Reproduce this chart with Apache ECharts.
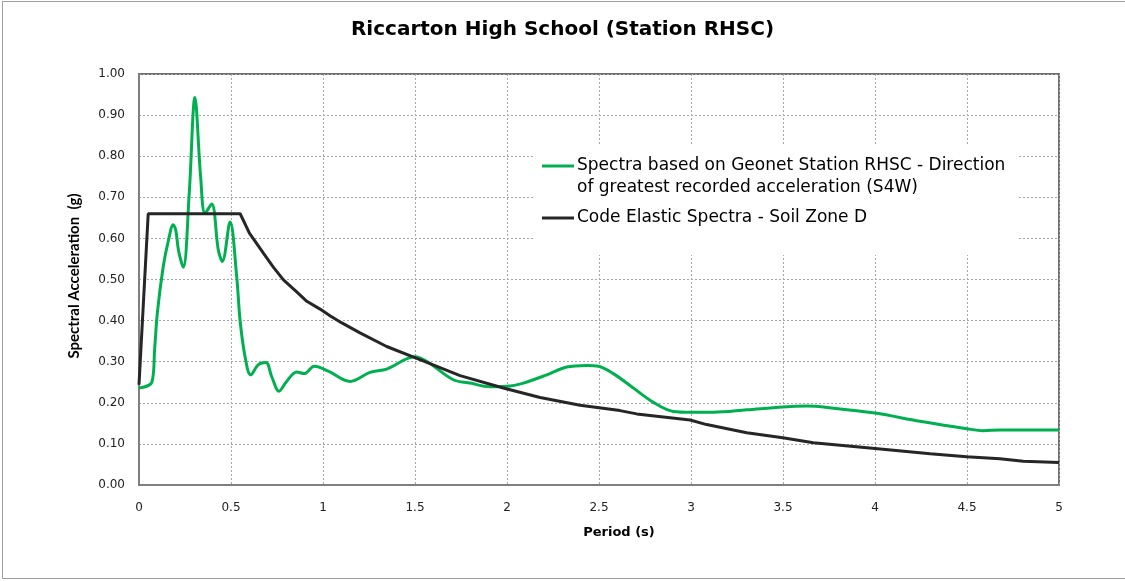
<!DOCTYPE html>
<html>
<head>
<meta charset="utf-8">
<script src="https://cdn.jsdelivr.net/npm/echarts@6/dist/echarts.min.js"></script>
<style>
html,body{margin:0;padding:0;background:#fff;}
#chart{width:1125px;height:581px;position:absolute;left:0;top:0;}
#frame{position:absolute;left:2px;top:1px;width:1130px;height:576px;border:1px solid #a0a0a0;pointer-events:none;}
</style>
</head>
<body>
<div id="chart"></div>
<div id="frame"></div>
<script>
const titleText = 'Riccarton High School (Station RHSC)';
const xAxisName = 'Period (s)';
const yAxisName = 'Spectral Acceleration  (g)';
const seriesNames = [
  'Spectra based on Geonet Station RHSC - Direction\nof greatest recorded acceleration (S4W)',
  'Code Elastic Spectra - Soil Zone D'
];

const greenT = [0, 0.07, 0.085, 0.1, 0.132, 0.16, 0.186, 0.2, 0.215, 0.241, 0.273, 0.304, 0.335, 0.359, 0.395, 0.431, 0.453, 0.495, 0.531, 0.549, 0.576, 0.607, 0.649, 0.69, 0.721, 0.761, 0.802, 0.857, 0.897, 0.953, 1.029, 1.147, 1.255, 1.346, 1.5, 1.563, 1.708, 1.799, 1.908, 1.998, 2.089, 2.216, 2.324, 2.433, 2.497, 2.578, 2.687, 2.796, 2.904, 3.0, 3.122, 3.303, 3.499, 3.629, 3.755, 4.0, 4.245, 4.498, 4.589, 4.679, 5.0];
const greenSa = [0.236, 0.25, 0.33, 0.42, 0.532, 0.595, 0.633, 0.62, 0.57, 0.53, 0.71, 0.943, 0.75, 0.661, 0.684, 0.572, 0.544, 0.64, 0.507, 0.402, 0.313, 0.268, 0.293, 0.298, 0.264, 0.228, 0.252, 0.275, 0.271, 0.289, 0.277, 0.252, 0.274, 0.282, 0.312, 0.301, 0.256, 0.248, 0.239, 0.24, 0.248, 0.268, 0.287, 0.291, 0.289, 0.271, 0.236, 0.201, 0.179, 0.177, 0.177, 0.183, 0.19, 0.192, 0.188, 0.175, 0.155, 0.137, 0.132, 0.134, 0.134];

const codeT = [0, 0.05, 0.55, 0.6, 0.676, 0.73, 0.785, 0.857, 0.912, 0.984, 1.038, 1.1, 1.201, 1.346, 1.527, 1.745, 1.98, 2.18, 2.397, 2.614, 2.705, 2.995, 3.085, 3.303, 3.499, 3.665, 4.0, 4.3, 4.498, 4.679, 4.806, 5.0];
const codeSa = [0.244, 0.66, 0.66, 0.613, 0.564, 0.53, 0.499, 0.47, 0.447, 0.428, 0.412, 0.395, 0.37, 0.337, 0.305, 0.266, 0.236, 0.213, 0.194, 0.181, 0.173, 0.158, 0.147, 0.127, 0.115, 0.103, 0.089, 0.076, 0.069, 0.064, 0.058, 0.055];

const pairs = (xs, ys) => xs.map((x, i) => [x, ys[i]]);

const chart = echarts.init(document.getElementById('chart'), null, {renderer: 'canvas'});
chart.setOption({
  backgroundColor: '#fff',
  animation: false,
  title: {
    text: titleText,
    left: 'center',
    top: 15,
    textStyle: {fontFamily: 'DejaVu Sans', fontWeight: 'bold', fontSize: 20, color: '#000'}
  },
  grid: {left: 139, right: 66, top: 74, bottom: 96, show: true, borderColor: '#6f6f6f', borderWidth: 2},
  legend: {
    orient: 'vertical',
    left: 533,
    top: 145,
    padding: [10, 13, 15, 9],
    backgroundColor: '#fff',
    itemWidth: 32,
    itemHeight: 44,
    itemGap: -3,
    textStyle: {fontFamily: 'DejaVu Sans', fontSize: 17, color: '#000', lineHeight: 22, padding: [0, 0, 0, -2]},
    data: [
      {name: seriesNames[0], icon: 'path://M0,0M0,44M0,9.5H32V12.5H0Z'},
      {name: seriesNames[1], icon: 'path://M0,0M0,44M0,20.5H32V23.5H0Z'}
    ]
  },
  xAxis: {
    type: 'value',
    min: 0, max: 5, interval: 0.5,
    name: xAxisName,
    nameLocation: 'middle',
    nameGap: 41,
    nameTextStyle: {fontFamily: 'DejaVu Sans', fontWeight: 'bold', fontSize: 13, color: '#000', padding: [0, 0, 0, 40]},
    axisLine: {show: true, lineStyle: {color: '#7f7f7f', width: 2}},
    axisTick: {show: false},
    axisLabel: {fontFamily: 'DejaVu Sans', fontSize: 12, color: '#222', margin: 17},
    splitLine: {show: true, lineStyle: {color: '#a6a6a6', type: [2, 2], width: 1}}
  },
  yAxis: {
    type: 'value',
    min: 0, max: 1, interval: 0.1,
    name: yAxisName,
    nameLocation: 'middle',
    nameGap: 57,
    nameTextStyle: {fontFamily: 'Lato', fontWeight: 'bold', fontSize: 15, color: '#000', padding: [0, 0, 0, 7]},
    axisLine: {show: true, lineStyle: {color: '#7f7f7f', width: 2}},
    axisTick: {show: false},
    axisLabel: {fontFamily: 'DejaVu Sans', fontSize: 12, color: '#222', margin: 14, formatter: v => v.toFixed(2)},
    splitLine: {show: true, lineStyle: {color: '#a6a6a6', type: [2, 2], width: 1}}
  },
  series: [
    {
      name: seriesNames[0],
      type: 'line',
      data: pairs(greenT, greenSa),
      smooth: 0.35,
      showSymbol: false,
      symbol: 'none',
      lineStyle: {color: '#00b050', width: 3},
      itemStyle: {color: '#00b050'},
      z: 3
    },
    {
      name: seriesNames[1],
      type: 'line',
      data: pairs(codeT, codeSa),
      smooth: false,
      showSymbol: false,
      symbol: 'none',
      lineStyle: {color: '#262626', width: 3},
      itemStyle: {color: '#262626'},
      z: 4
    }
  ]
});
</script>
</body>
</html>
